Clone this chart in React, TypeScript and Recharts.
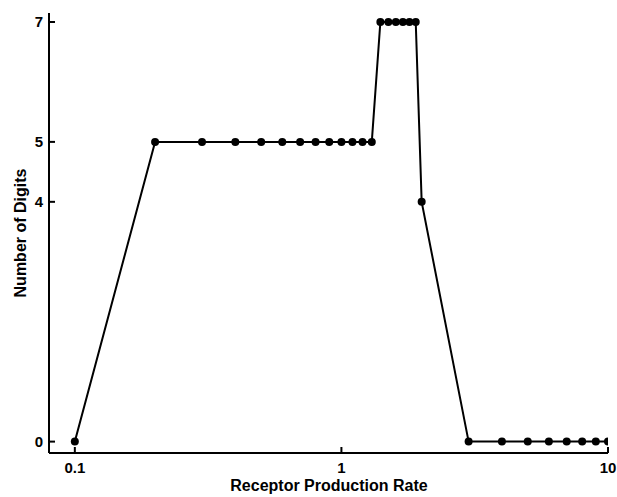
import { LineChart, Line, XAxis, YAxis, Label } from "recharts";

const rates = [
  0.1, 0.2, 0.3, 0.4, 0.5, 0.6, 0.7, 0.8, 0.9, 1.0, 1.1, 1.2, 1.3,
  1.4, 1.5, 1.6, 1.7, 1.8, 1.9, 2.0,
  3, 4, 5, 6, 7, 8, 9, 10,
];
const digits = [
  0, 5, 5, 5, 5, 5, 5, 5, 5, 5, 5, 5, 5,
  7, 7, 7, 7, 7, 7, 4,
  0, 0, 0, 0, 0, 0, 0, 0,
];
const xTicks = [0.1, 1, 10];
const yTicks = [0, 4, 5, 7];

const data = rates.map((x, i) => ({ x, y: digits[i] }));

const font = "'Liberation Sans', Arial, Helvetica, sans-serif";

function XTick(props: any) {
  const { x, y, payload } = props;
  return (
    <g>
      <line x1={x} x2={x} y1={y} y2={y - 6} stroke="#000" strokeWidth={2} />
      <text x={x} y={y + 20} textAnchor="middle" fontFamily={font} fontWeight="bold" fontSize={15} fill="#000">
        {payload.value}
      </text>
    </g>
  );
}

function YTick(props: any) {
  const { x, y, payload } = props;
  return (
    <g>
      <line x1={x} x2={x + 6} y1={y} y2={y} stroke="#000" strokeWidth={2} />
      <text x={x - 6} y={y + 5} textAnchor="end" fontFamily={font} fontWeight="bold" fontSize={15} fill="#000">
        {payload.value}
      </text>
    </g>
  );
}

export default function App() {
  return (
    <div style={{ position: "absolute", left: 0, top: 0, background: "#fff" }}>
      <LineChart width={617} height={497} data={data} margin={{ top: 13, right: 9, bottom: 0, left: 0 }}>
        <XAxis
          dataKey="x" type="number" scale="log" domain={[0.08, 10]} ticks={xTicks}
          allowDataOverflow tickSize={0} tickMargin={0} tick={<XTick />}
          stroke="#000" strokeWidth={2} height={44}
        >
          <Label
            content={() => (
              <text x={329} y={491} textAnchor="middle" fontFamily={font} fontWeight="bold" fontSize={16} fill="#000">
                Receptor Production Rate
              </text>
            )}
          />
        </XAxis>
        <YAxis
          type="number" domain={[-0.19, 7.15]} ticks={yTicks} allowDataOverflow
          tickSize={0} tickMargin={0} tick={<YTick />} stroke="#000" strokeWidth={2} width={49}
        >
          <Label
            content={() => (
              <text x={26} y={233} transform="rotate(-90 26 233)" textAnchor="middle" fontFamily={font} fontWeight="bold" fontSize={16} fill="#000">
                Number of Digits
              </text>
            )}
          />
        </YAxis>
        <Line
          dataKey="y" type="linear" stroke="#000" strokeWidth={2}
          dot={{ r: 4, fill: "#000", stroke: "#000", strokeWidth: 0 }}
          isAnimationActive={false}
        />
      </LineChart>
    </div>
  );
}
